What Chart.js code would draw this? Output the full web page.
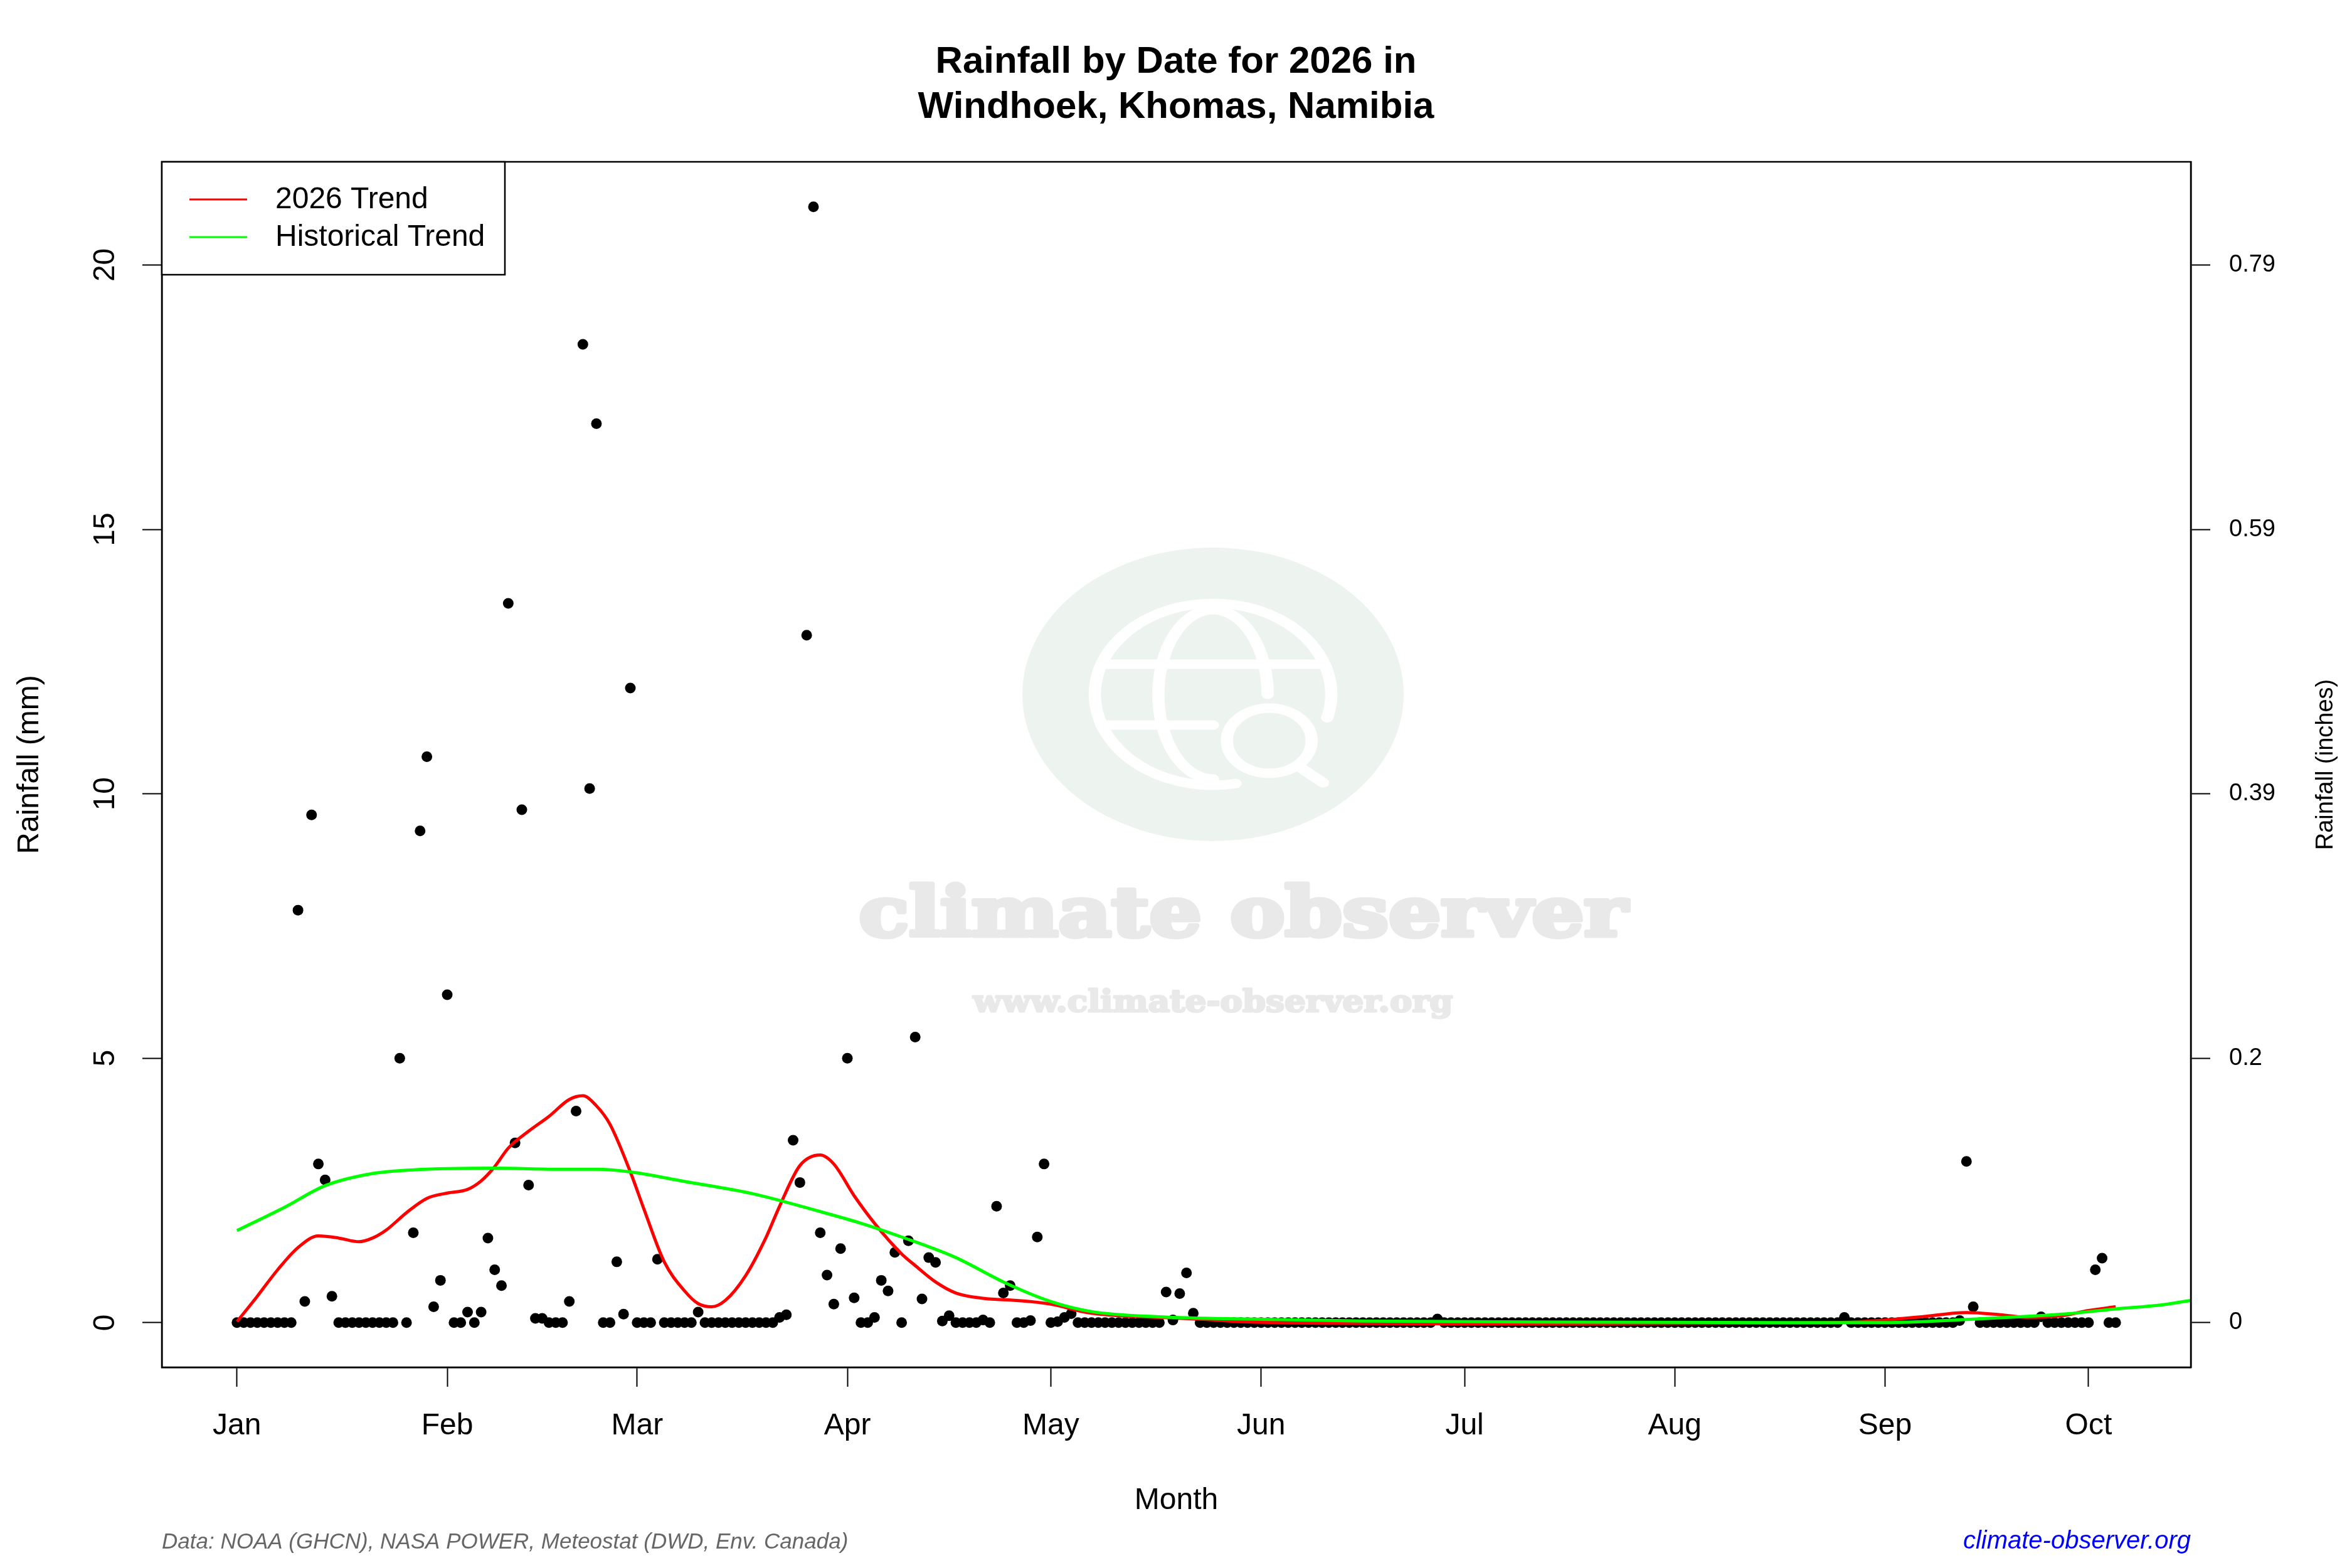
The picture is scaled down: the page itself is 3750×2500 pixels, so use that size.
<!DOCTYPE html>
<html>
<head>
<meta charset="utf-8">
<title>Rainfall by Date for 2026 in Windhoek</title>
<script src="https://cdn.jsdelivr.net/npm/chart.js@4.4.1/dist/chart.umd.min.js"></script>
<style>
  html, body { margin: 0; padding: 0; background: #ffffff; }
  canvas { display: block; }
</style>
</head>
<body>
<canvas id="rainChart" width="3750" height="2500"></canvas>
<script>
// daily rainfall (mm), one value per day starting 1 Jan 2026
const rainfall = [
  0, 0, 0, 0, 0, 0, 0, 0, 0, 7.8,
  0.4, 9.6, 3.0, 2.7, 0.5, 0, 0, 0, 0, 0,
  0, 0, 0, 0, 5.0, 0, 1.7, 9.3, 10.7, 0.3,
  0.8, 6.2, 0, 0, 0.2, 0, 0.2, 1.6, 1.0, 0.7,
  13.6, 3.4, 9.7, 2.6, 0.08, 0.08, 0, 0, 0, 0.4,
  4.0, 18.5, 10.1, 17.0, 0, 0, 1.15, 0.16, 12.0, 0,
  0, 0, 1.2, 0, 0, 0, 0, 0, 0.2, 0,
  0, 0, 0, 0, 0, 0, 0, 0, 0, 0,
  0.1, 0.15, 3.45, 2.65, 13.0, 21.1, 1.7, 0.9, 0.35, 1.4,
  5.0, 0.47, 0, 0, 0.1, 0.8, 0.6, 1.33, 0, 1.55,
  5.4, 0.45, 1.23, 1.14, 0.03, 0.13, 0, 0, 0, 0,
  0.05, 0, 2.2, 0.56, 0.7, 0, 0, 0.04, 1.62, 3.0,
  0, 0.02, 0.1, 0.17, 0, 0, 0, 0, 0, 0,
  0, 0, 0, 0, 0, 0, 0, 0.58, 0.05, 0.55,
  0.94, 0.18, 0, 0, 0, 0, 0, 0, 0, 0,
  0, 0, 0, 0, 0, 0, 0, 0, 0, 0,
  0, 0, 0, 0, 0, 0, 0, 0, 0, 0,
  0, 0, 0, 0, 0, 0, 0, 0.07, 0, 0,
  0, 0, 0, 0, 0, 0, 0, 0, 0, 0,
  0, 0, 0, 0, 0, 0, 0, 0, 0, 0,
  0, 0, 0, 0, 0, 0, 0, 0, 0, 0,
  0, 0, 0, 0, 0, 0, 0, 0, 0, 0,
  0, 0, 0, 0, 0, 0, 0, 0, 0, 0,
  0, 0, 0, 0, 0, 0, 0, 0.1, 0, 0,
  0, 0, 0, 0, 0, 0, 0, 0, 0, 0,
  0, 0, 0, 0, 0.04, 3.05, 0.3, 0, 0, 0,
  0, 0, 0, 0, 0, 0, 0.11, 0, 0, 0,
  0, 0, 0, 0, 1.0, 1.22, 0, 0
];

// smoothed 2026 trend (day of year -> mm)
const trendDays = [0, 3, 6, 9, 12, 15, 18, 20, 22, 25, 28, 31, 34, 36, 38, 40, 43, 46, 49, 51,
  53, 55, 58, 60, 63, 66, 68, 70, 72, 75, 78, 80, 83, 86, 88, 91, 94, 98, 100, 103,
  106, 110, 115, 120, 125, 130, 136, 143, 148, 160, 180, 200, 220, 235, 242, 249, 255, 260, 264, 269,
  273, 277];
const trend2026 = [0.02, 0.5, 1.0, 1.42, 1.64, 1.6, 1.53, 1.6, 1.75, 2.08, 2.35, 2.45, 2.52, 2.68, 2.95, 3.3, 3.62, 3.9, 4.22, 4.29,
  4.1, 3.75, 2.85, 2.15, 1.15, 0.6, 0.36, 0.3, 0.42, 0.89, 1.61, 2.2, 2.97, 3.17, 3.0, 2.4, 1.88, 1.3, 1.08, 0.77,
  0.56, 0.46, 0.42, 0.35, 0.2, 0.13, 0.1, 0.06, 0.02, -0.01, -0.02, -0.02, -0.01, 0.0, 0.04, 0.12, 0.19, 0.15, 0.1, 0.13,
  0.23, 0.3];

// historical trend
const histDays = [0, 7, 13, 20, 26, 38, 48, 53, 58, 66, 76, 86, 92, 98, 106, 113, 120, 126, 136, 146,
  166, 200, 230, 243, 255, 264, 270, 277, 284, 288];
const histTrend = [1.74, 2.18, 2.59, 2.82, 2.89, 2.92, 2.9, 2.9, 2.85, 2.67, 2.44, 2.1, 1.88, 1.62, 1.23, 0.77, 0.4, 0.21, 0.11, 0.075,
  0.03, 0.01, 0.0, 0.0, 0.06, 0.12, 0.17, 0.26, 0.34, 0.42];

const monthStarts = [0, 31, 59, 90, 120, 151, 181, 212, 243, 273];
const monthLabels = ["Jan", "Feb", "Mar", "Apr", "May", "Jun", "Jul", "Aug", "Sep", "Oct"];
const mmTicks = [0, 5, 10, 15, 20];

const titleLines = ["Rainfall by Date for 2026 in", "Windhoek, Khomas, Namibia"];
const sourceNote = "Data: NOAA (GHCN), NASA POWER, Meteostat (DWD, Env. Canada)";
const siteName = "climate-observer.org";

const FONT = "'Liberation Sans', Arial, Helvetica, sans-serif";
Chart.defaults.font.family = FONT;
Chart.defaults.color = "#000";

// light logo behind the data
const watermark = {
  id: "watermark",
  beforeDatasetsDraw(chart) {
    const ctx = chart.ctx;
    ctx.save();
    ctx.fillStyle = "#edf4ef";
    ctx.beginPath();
    ctx.ellipse(1934, 1107, 304, 234, 0, 0, Math.PI * 2);
    ctx.fill();

    // globe + magnifier
    ctx.translate(1934, 1107);
    ctx.scale(1.3, 1);
    ctx.strokeStyle = "#ffffff";
    ctx.lineWidth = 15;
    ctx.lineCap = "round";
    const rad = d => d * Math.PI / 180;
    ctx.beginPath();
    ctx.arc(0, 0, 145, rad(79), rad(375));
    ctx.stroke();
    ctx.beginPath();
    ctx.ellipse(0, 0, 67, 135, 0, rad(90), rad(270));
    ctx.stroke();
    ctx.beginPath();
    ctx.ellipse(0, 0, 67, 135, 0, rad(270), rad(360));
    ctx.stroke();
    ctx.beginPath();
    ctx.moveTo(-137, -48); ctx.lineTo(137, -48);
    ctx.moveTo(-137, 49); ctx.lineTo(0, 49);
    ctx.stroke();
    ctx.beginPath();
    ctx.arc(69, 74, 52, 0, Math.PI * 2);
    ctx.stroke();
    ctx.beginPath();
    ctx.moveTo(105, 115); ctx.lineTo(135, 141);
    ctx.stroke();
    ctx.restore();

    const fitText = (text, font, cx, baseline, width, thick) => {
      ctx.save();
      ctx.font = font;
      const w = ctx.measureText(text).width;
      ctx.translate(cx, baseline);
      ctx.scale(width / w, 1);
      ctx.textAlign = "center";
      ctx.textBaseline = "alphabetic";
      ctx.fillStyle = "#e9e9e9";
      ctx.strokeStyle = "#e9e9e9";
      ctx.lineWidth = thick;
      ctx.lineJoin = "round";
      ctx.strokeText(text, 0, 0);
      ctx.fillText(text, 0, 0);
      ctx.restore();
    };
    fitText("climate observer", "bold 108px 'DejaVu Serif', serif", 1982, 1492, 1225, 7);
    fitText("www.climate-observer.org", "bold 48px 'DejaVu Serif', serif", 1934, 1613, 765, 3);
  }
};

// plot frame, legend box, right axis title, footer
const decorations = {
  id: "decorations",
  afterDraw(chart) {
    const ctx = chart.ctx;
    const a = chart.chartArea;
    ctx.save();
    ctx.strokeStyle = "#000";
    ctx.lineWidth = 2.5;
    ctx.strokeRect(a.left, a.top, a.right - a.left, a.bottom - a.top);

    // legend
    const lx = a.left, ly = a.top;
    ctx.fillStyle = "#fff";
    ctx.fillRect(lx, ly, 547, 180);
    ctx.strokeRect(lx, ly, 547, 180);
    const items = [chart.data.datasets[1], chart.data.datasets[0]];
    ctx.font = "48px " + FONT;
    ctx.textAlign = "left";
    ctx.textBaseline = "middle";
    items.forEach((ds, i) => {
      const y = ly + 60 + i * 60;
      ctx.strokeStyle = ds.borderColor;
      ctx.lineWidth = 3;
      ctx.beginPath();
      ctx.moveTo(lx + 44, y);
      ctx.lineTo(lx + 136, y);
      ctx.stroke();
      ctx.fillStyle = "#000";
      ctx.fillText(ds.label, lx + 181, y + 1);
    });

    // right axis title
    ctx.save();
    ctx.translate(3709, (a.top + a.bottom) / 2);
    ctx.rotate(-Math.PI / 2);
    ctx.font = "38px " + FONT;
    ctx.textAlign = "center";
    ctx.textBaseline = "middle";
    ctx.fillStyle = "#000";
    ctx.fillText("Rainfall (inches)", 0, 0);
    ctx.restore();

    // footer
    ctx.textBaseline = "alphabetic";
    ctx.font = "italic 35px " + FONT;
    ctx.fillStyle = "#666666";
    ctx.textAlign = "left";
    ctx.fillText(sourceNote, a.left, 2469);
    ctx.font = "italic 40px " + FONT;
    ctx.fillStyle = "#0000ff";
    ctx.textAlign = "right";
    ctx.fillText(siteName, a.right, 2469);
    ctx.restore();
  }
};

const axisLine = { display: true, color: "#000", width: 2.5 };
const tickMarks = { drawOnChartArea: false, drawTicks: true, tickLength: 31, tickWidth: 2, tickColor: "#000" };

new Chart(document.getElementById("rainChart"), {
  type: "scatter",
  data: {
    datasets: [
      {
        label: "Historical Trend",
        type: "line",
        data: histDays.map((d, i) => ({ x: d, y: histTrend[i] })),
        borderColor: "#00ff00",
        borderWidth: 5,
        pointRadius: 0,
        cubicInterpolationMode: "monotone",
        clip: 0,
        order: 1
      },
      {
        label: "2026 Trend",
        type: "line",
        data: trendDays.map((d, i) => ({ x: d, y: trend2026[i] })),
        borderColor: "#ff0000",
        borderWidth: 5,
        pointRadius: 0,
        cubicInterpolationMode: "monotone",
        clip: 0,
        order: 2
      },
      {
        label: "Daily rainfall",
        data: rainfall.map((v, i) => ({ x: i, y: v })),
        backgroundColor: "#000",
        borderWidth: 0,
        pointRadius: 8.5,
        pointHoverRadius: 8.5,
        order: 3
      }
    ]
  },
  options: {
    responsive: false,
    animation: false,
    devicePixelRatio: 1,
    layout: { padding: 0 },
    plugins: {
      legend: { display: false },
      tooltip: { enabled: false },
      title: {
        display: true,
        text: titleLines,
        color: "#000",
        font: { size: 60, weight: "bold", lineHeight: 1.2 },
        padding: { top: 63, bottom: 51 }
      }
    },
    scales: {
      x: {
        type: "linear",
        position: "bottom",
        min: -11.08,
        max: 288.08,
        afterBuildTicks: s => { s.ticks = monthStarts.map(v => ({ value: v })); },
        afterFit: s => { s.height = 320; },
        ticks: {
          font: { size: 48 },
          padding: 34,
          maxRotation: 0,
          autoSkip: false,
          callback: v => monthLabels[monthStarts.indexOf(v)]
        },
        grid: tickMarks,
        border: axisLine,
        title: { display: true, text: "Month", font: { size: 48 }, padding: { top: 0, bottom: 78 } }
      },
      y: {
        type: "linear",
        position: "left",
        min: -0.844,
        max: 21.95,
        afterBuildTicks: s => { s.ticks = mmTicks.map(v => ({ value: v })); },
        afterFit: s => { s.width = 258; },
        ticks: {
          font: { size: 48 },
          minRotation: 90,
          maxRotation: 90,
          crossAlign: "center",
          padding: 32,
          callback: v => String(v)
        },
        grid: tickMarks,
        border: axisLine,
        title: { display: true, text: "Rainfall (mm)", font: { size: 48 }, padding: { top: 19, bottom: 0 } }
      },
      y1: {
        type: "linear",
        position: "right",
        min: -0.844,
        max: 21.95,
        afterBuildTicks: s => { s.ticks = mmTicks.map(v => ({ value: v })); },
        afterFit: s => { s.width = 257; },
        ticks: {
          font: { size: 38 },
          padding: 30,
          callback: v => String(+(v / 25.4).toFixed(2))
        },
        grid: tickMarks,
        border: axisLine
      }
    }
  },
  plugins: [watermark, decorations]
});
</script>
</body>
</html>
